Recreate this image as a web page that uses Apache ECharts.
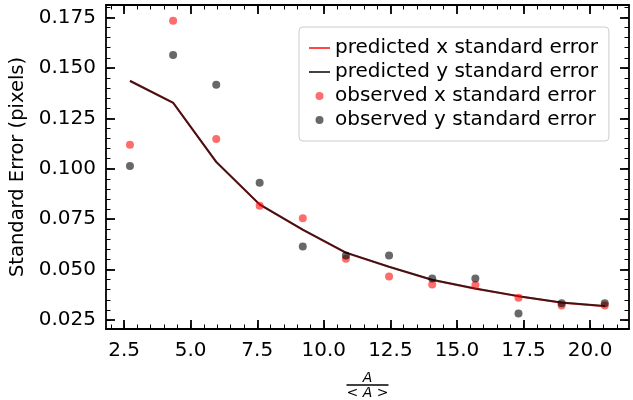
<!DOCTYPE html>
<html>
<head>
<meta charset="utf-8">
<script src="https://cdn.jsdelivr.net/npm/echarts@6/dist/echarts.min.js"></script>
<style>
  html, body { margin: 0; padding: 0; background: #fff; }
  #chart { width: 633px; height: 400px; }
</style>
</head>
<body>
<div id="chart"></div>
<script>
// Normalised amplitude A/<A> at each bin
const amplitude = [2.72, 4.34, 5.96, 7.59, 9.21, 10.83, 12.45, 14.07, 15.69, 17.31, 18.93, 20.55];

// Predicted standard errors (pixels)
const predictedX = [0.1437, 0.1328, 0.1033, 0.0822, 0.0697, 0.0583, 0.0513, 0.0448, 0.0405, 0.0367, 0.0335, 0.0318];
const predictedY = [0.1435, 0.1327, 0.1034, 0.0823, 0.0698, 0.0584, 0.0514, 0.0449, 0.0406, 0.0368, 0.0336, 0.0319];

// Observed standard errors (pixels)
const observedX = [0.1119, 0.1734, 0.1147, 0.0816, 0.0754, 0.0553, 0.0465, 0.0426, 0.0423, 0.0360, 0.0322, 0.0322];
const observedY = [0.1013, 0.1564, 0.1417, 0.0931, 0.0614, 0.0569, 0.0569, 0.0455, 0.0455, 0.0282, 0.0333, 0.0333];

// Tick labels
const xTicks = [2.5, 5.0, 7.5, 10.0, 12.5, 15.0, 17.5, 20.0];
const yTicks = [0.025, 0.050, 0.075, 0.100, 0.125, 0.150, 0.175];

const xRange = [1.82, 21.46];
const yRange = [0.0205, 0.1812];

// minor ticks: 5 per major step
function minorTicks(range, step) {
  const out = [];
  const start = Math.ceil(range[0] / step - 1e-9);
  const end = Math.floor(range[1] / step + 1e-9);
  for (let i = start; i <= end; i++) out.push(+(i * step).toFixed(6));
  return out;
}
const xMinor = minorTicks(xRange, 0.5);
const yMinor = minorTicks(yRange, 0.005);

const FONT = 'DejaVu Sans';
const FS = 20;
const RED = 'rgba(255,0,0,0.72)';
const BLACK = 'rgba(0,0,0,0.74)';

function majorAxis(kind, position, ticks, range, showLabel, fmt, extra) {
  return Object.assign({
    type: 'value',
    position: position,
    min: range[0],
    max: range[1],
    axisLine: { show: true, onZero: false, lineStyle: { color: '#000', width: 1.8 } },
    axisTick: { show: true, inside: true, length: 9, customValues: ticks, lineStyle: { color: '#000', width: 1.8 } },
    axisLabel: {
      show: showLabel, customValues: ticks, formatter: fmt,
      fontFamily: FONT, fontSize: FS, color: '#000',
      margin: kind === 'x' ? 12 : 10
    },
    splitLine: { show: false },
    minorTick: { show: false }
  }, extra || {});
}
function minorAxis(position, ticks, range) {
  return {
    type: 'value',
    position: position,
    min: range[0],
    max: range[1],
    axisLine: { show: false, onZero: false },
    axisTick: { show: true, inside: true, length: 4.5, customValues: ticks, lineStyle: { color: '#000', width: 1 } },
    axisLabel: { show: false },
    splitLine: { show: false }
  };
}

const chart = echarts.init(document.getElementById('chart'), null, { renderer: 'canvas' });

chart.setOption({
  animation: false,
  backgroundColor: '#fff',
  grid: { left: 106, right: 4, top: 5, bottom: 71, containLabel: false, outerBoundsMode: 'none' },
  xAxis: [
    majorAxis('x', 'bottom', xTicks, xRange, true, v => v.toFixed(1), {
      name: '{a|A}\n{bar|}\n{b|< A >}',
      nameLocation: 'middle',
      nameGap: 43,
      nameTextStyle: {
        align: 'center',
        verticalAlign: 'top',
        rich: {
          a: { fontFamily: FONT, fontStyle: 'italic', fontSize: 14, lineHeight: 12, color: '#000', align: 'center' },
          bar: { width: 42, height: 1.3, lineHeight: 2, backgroundColor: '#000', align: 'center' },
          b: { fontFamily: FONT, fontStyle: 'italic', fontSize: 14, lineHeight: 15, color: '#000', align: 'center' }
        }
      }
    }),
    minorAxis('bottom', xMinor, xRange),
    majorAxis('x', 'top', xTicks, xRange, false),
    minorAxis('top', xMinor, xRange)
  ],
  yAxis: [
    majorAxis('y', 'left', yTicks, yRange, true, v => v.toFixed(3), {
      name: 'Standard Error (pixels)',
      nameLocation: 'middle',
      nameGap: 67,
      nameTextStyle: { fontFamily: FONT, fontSize: 19.5, color: '#000' }
    }),
    minorAxis('left', yMinor, yRange),
    majorAxis('y', 'right', yTicks, yRange, false),
    minorAxis('right', yMinor, yRange)
  ],
  legend: {
    orient: 'vertical',
    left: 299,
    top: 27,
    padding: [11, 11, 11, 10],
    itemWidth: 21,
    itemHeight: 8,
    itemGap: 4,
    borderColor: '#cccccc',
    borderWidth: 1,
    borderRadius: 4,
    backgroundColor: 'rgba(255,255,255,0.8)',
    textStyle: { fontFamily: FONT, fontSize: FS, lineHeight: 20, color: '#000', padding: [0, 0, 0, 0] },
    data: [
      { name: 'predicted x standard error', icon: 'path://M0,0L21,0L21,2L0,2Z' },
      { name: 'predicted y standard error', icon: 'path://M0,0L21,0L21,2L0,2Z' },
      { name: 'observed x standard error', icon: 'circle' },
      { name: 'observed y standard error', icon: 'circle' }
    ]
  },
  series: [
    {
      name: 'predicted x standard error',
      type: 'line',
      data: amplitude.map((x, i) => [x, predictedX[i]]),
      symbol: 'none',
      color: RED,
      lineStyle: { color: RED, width: 2 },
      z: 2
    },
    {
      name: 'predicted y standard error',
      type: 'line',
      data: amplitude.map((x, i) => [x, predictedY[i]]),
      symbol: 'none',
      color: BLACK,
      lineStyle: { color: BLACK, width: 2 },
      z: 3
    },
    {
      name: 'observed x standard error',
      type: 'scatter',
      data: amplitude.map((x, i) => [x, observedX[i]]),
      symbolSize: 8,
      itemStyle: { color: RED },
      z: 4
    },
    {
      name: 'observed y standard error',
      type: 'scatter',
      data: amplitude.map((x, i) => [x, observedY[i]]),
      symbolSize: 8,
      itemStyle: { color: BLACK },
      z: 5
    }
  ]
});
</script>
</body>
</html>
